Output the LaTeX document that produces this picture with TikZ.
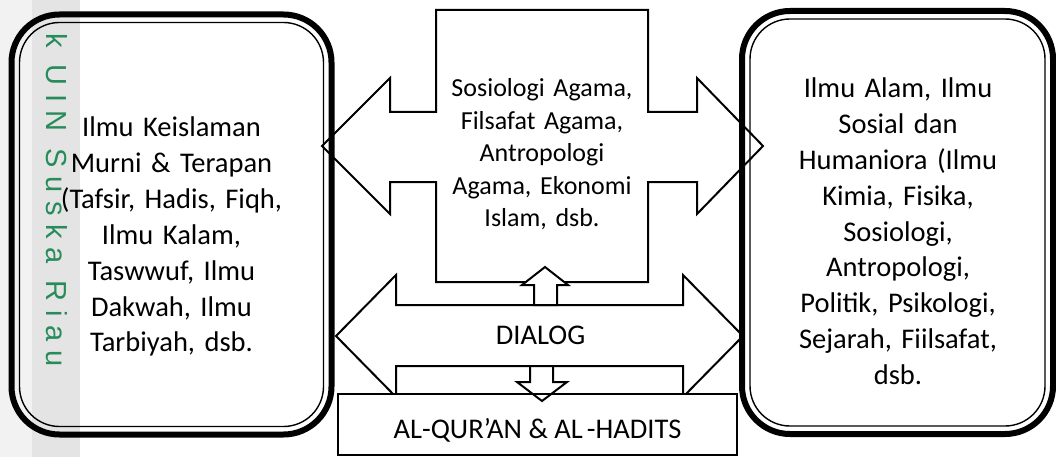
\documentclass[tikz,border=0pt]{standalone}
\usepackage{fontspec}
\setmainfont{Carlito}
\newfontfamily\wmfont[LetterSpace=30]{Liberation Sans}
\definecolor{wmgreen}{RGB}{40,140,90}
\definecolor{stripA}{RGB}{242,242,242}
\definecolor{stripB}{RGB}{228,228,228}
\tikzset{
  shapeline/.style={draw=black, line width=2pt, fill=white, line join=miter},
  outerframe/.style={draw=black, line width=6pt, rounded corners=48pt},
  innerframe/.style={draw=black, line width=1.4pt, rounded corners=40pt},
  bigtext/.style={inner sep=0pt, align=center, text width=310pt, anchor=base,
                  font=\fontsize{28.5}{35.8}\selectfont},
  midtext/.style={inner sep=0pt, align=center, text width=205pt, anchor=base,
                  font=\fontsize{26}{32.5}\selectfont},
  labeltext/.style={inner sep=0pt, anchor=base, font=\fontsize{28.5}{34}\selectfont},
}
\begin{document}
\begin{tikzpicture}[x=1pt,y=-1pt]
\useasboundingbox (0,0) rectangle (1056,457);
% watermark strip
\fill[stripA] (0,0) rectangle (32,457);
\fill[stripB] (32,0) rectangle (80,457);

% central cross with left/right arrows
\draw[shapeline] (322,146) -- (390,78) -- (390,112) -- (436,112) -- (436,10)
  -- (648,10) -- (648,112) -- (697,112) -- (697,78) -- (763,146) -- (697,214)
  -- (697,182) -- (648,182) -- (648,282) -- (436,282) -- (436,182) -- (390,182)
  -- (390,214) -- cycle;

% DIALOG double arrow
\draw[shapeline] (336,336) -- (396,275) -- (396,305) -- (683,305) -- (683,275)
  -- (743,336) -- (683,397) -- (683,366) -- (396,366) -- (396,397) -- cycle;

% small up arrow
\draw[shapeline] (545,267) -- (568,285) -- (557,285) -- (557,305) -- (534,305)
  -- (534,285) -- (522,285) -- cycle;

% bottom box
\draw[shapeline] (338,394) rectangle (737,455);

% small down arrow
\draw[line width=2pt, line join=miter] (530,366) -- (530,382) -- (517,382) -- (542,401)
  -- (567,382) -- (553,382) -- (553,366);

% left frame
\draw[outerframe] (11.5,14.5) rectangle (331.5,434.5);
\draw[innerframe] (19.5,22.5) rectangle (323.5,426.5);
% right frame
\draw[outerframe] (742,11) rectangle (1053,434);
\draw[innerframe] (750,19) rectangle (1045,426);

% watermark text
\node[rotate=-90, anchor=base west, inner sep=0pt, text=wmgreen,
      font=\wmfont\fontsize{29}{29}\selectfont] (wm) at (46,33) {k UIN Suska Riau};

% texts
\node[bigtext] (left) at (171.5,137) {Ilmu Keislaman\\Murni \& Terapan\\(Tafsir, Hadis, Fiqh,\\Ilmu Kalam,\\Taswwuf, Ilmu\\Dakwah, Ilmu\\Tarbiyah, dsb.};
\node[midtext] (mid) at (542,97) {Sosiologi Agama,\\Filsafat Agama,\\Antropologi\\Agama, Ekonomi\\Islam, dsb.};
\node[bigtext] (right) at (898,98) {Ilmu Alam, Ilmu\\Sosial dan\\Humaniora (Ilmu\\Kimia, Fisika,\\Sosiologi,\\Antropologi,\\Politik, Psikologi,\\Sejarah, Fiilsafat,\\dsb.};
\node[labeltext] (dialog) at (540.5,344) {DIALOG};
\node[labeltext] (quran) at (537.5,438) {AL-QUR’AN \& AL\kern4pt-HADITS};
\end{tikzpicture}
\end{document}
